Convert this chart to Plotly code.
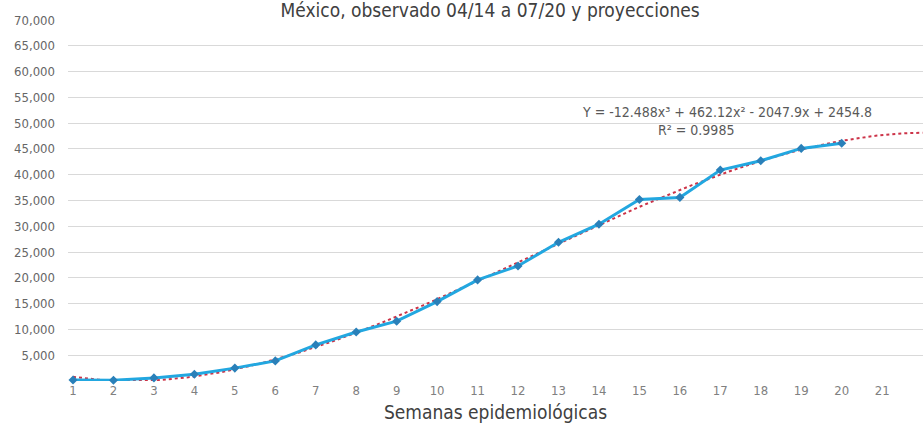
import numpy as np
import plotly.graph_objects as go

# ---- data ----
weeks = [1, 2, 3, 4, 5, 6, 7, 8, 9, 10, 11, 12, 13, 14, 15, 16, 17, 18, 19, 20]
observed = [200, 150, 600, 1300, 2500, 3900, 7000, 9500, 11600, 15400, 19600, 22300,
            26900, 30400, 35200, 35600, 40900, 42700, 45100, 46100]
x_ticks = list(range(1, 23))
y_tickvals = [0, 5000, 10000, 15000, 20000, 25000, 30000, 35000, 40000, 45000,
              50000, 55000, 60000, 65000, 70000]
y_ticktext = ["", "5,000", "10,000", "15,000", "20,000", "25,000", "30,000", "35,000",
              "40,000", "45,000", "50,000", "55,000", "60,000", "65,000", "70,000"]
title_text = "México, observado 04/14 a 07/20 y proyecciones"
x_title = "Semanas epidemiológicas"
equation_text = "Y = -12.488x³ + 462.12x² - 2047.9x + 2454.8"
r2_text = "R² = 0.9985"
trend_end = 22

# polynomial (3rd order) trendline fitted to the observed series
coef = np.polyfit(weeks, observed, 3)
trend_x = np.linspace(weeks[0], trend_end, 200)
trend_y = np.polyval(coef, trend_x)

FONT = "DejaVu Sans Condensed, Roboto, sans-serif"

fig = go.Figure()
fig.add_trace(go.Scatter(
    x=trend_x, y=trend_y, mode="lines",
    line=dict(color="#cc3348", width=2, dash="dot"),
    hoverinfo="skip", showlegend=False, cliponaxis=False,
))
fig.add_trace(go.Scatter(
    x=weeks, y=observed, mode="lines+markers",
    line=dict(color="#22a7e0", width=3),
    marker=dict(symbol="diamond", size=7, color="#2a80b9"),
    showlegend=False, cliponaxis=False,
))

fig.update_layout(
    width=923, height=430,
    margin=dict(l=68, r=0, t=20, b=49),
    paper_bgcolor="white", plot_bgcolor="white",
    font=dict(family=FONT, color="#595959"),
    title=dict(text=title_text, x=0.531, xanchor="center", y=1.0, yanchor="top",
               pad=dict(t=4, b=0),
               font=dict(size=19, color="#404040", family=FONT)),
    annotations=[
        dict(text=equation_text, xref="paper", yref="paper", x=0.771, y=0.745,
             xanchor="center", yanchor="middle",
             showarrow=False, font=dict(size=14, color="#595959", family=FONT)),
        dict(text=r2_text, xref="paper", yref="paper", x=0.734, y=0.695,
             xanchor="center", yanchor="middle",
             showarrow=False, font=dict(size=14, color="#595959", family=FONT)),
    ],
)
fig.update_xaxes(
    range=[0.876, 22.01], tickvals=x_ticks, ticktext=[str(v) for v in x_ticks],
    showgrid=False, zeroline=False, showline=False, automargin=False,
    tickfont=dict(size=13, color="#808080"),
    title=dict(text=x_title, font=dict(size=19, color="#404040"), standoff=8),
)
fig.update_yaxes(
    range=[0, 70000], tickvals=y_tickvals, ticktext=y_ticktext,
    showgrid=True, gridcolor="#d9d9d9", gridwidth=1, zeroline=False, showline=False,
    automargin=False,
    tickfont=dict(size=13, color="#666666"), ticklabelstandoff=12,
)

fig.write_html("out.html", config={"displayModeBar": False},
               post_script="document.body.style.margin='0';")
